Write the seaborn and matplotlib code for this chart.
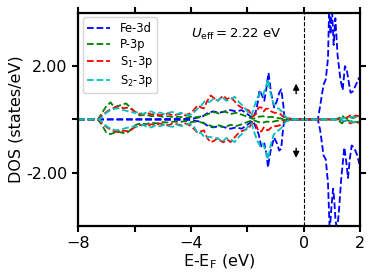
import pandas as pd
import matplotlib
matplotlib.use('Agg')
import matplotlib.pyplot as plt
import seaborn as sns

# PDOS (energy in eV, DOS in states/eV)
fe_e_up = [-8.0, -4.0, -3.6, -3.4, -3.2, -3.0, -2.8, -2.6, -2.4, -2.2, -2.0, -1.8, -1.7, -1.62, -1.57,
           -1.48, -1.4, -1.32, -1.25, -1.16, -1.05, -0.95, -0.87, -0.8, -0.73, -0.68, 0.0, 0.5, 0.58,
           0.7, 0.78, 0.86, 0.9, 0.95, 1.0, 1.06, 1.12, 1.2, 1.3, 1.38, 1.46, 1.52, 1.58, 1.66, 1.74,
           1.85, 1.95, 2.0]
fe_up = [0.0, 0.02, 0.1, 0.25, 0.3, 0.25, 0.3, 0.35, 0.3, 0.35, 0.2, 0.05, 0.3, 0.7, 1.1,
         0.9, 0.7, 1.2, 1.75, 1.0, 0.45, 0.7, 1.0, 1.13, 0.6, 0.0, 0.0, 0.0, 0.5,
         1.3, 1.5, 2.3, 4.2, 3.2, 4.2, 2.8, 3.8, 2.4, 1.5, 1.1, 2.0, 1.9, 1.5, 1.0, 1.05,
         1.3, 1.55, 1.45]
fe_e_dn = [-8.0, -4.0, -3.6, -3.4, -3.2, -3.0, -2.8, -2.6, -2.4, -2.2, -2.0, -1.8, -1.7, -1.6, -1.5,
           -1.4, -1.32, -1.27, -1.18, -1.05, -0.95, -0.87, -0.8, -0.73, -0.68, 0.0, 0.5, 0.58, 0.62,
           0.7, 0.78, 0.86, 0.92, 0.98, 1.04, 1.08, 1.12, 1.18, 1.25, 1.33, 1.44, 1.52, 1.57, 1.63,
           1.7, 1.78, 1.88, 1.97, 2.0]
fe_dn = [0.0, -0.02, -0.1, -0.25, -0.3, -0.25, -0.3, -0.35, -0.3, -0.35, -0.2, -0.05, -0.3, -0.55, -1.05,
         -0.9, -1.3, -1.8, -1.2, -0.68, -0.9, -1.17, -1.1, -0.3, 0.0, 0.0, 0.0, -0.4, -0.7,
         -1.35, -1.5, -2.4, -4.2, -3.3, -2.6, -3.0, -3.7, -4.2, -3.4, -2.2, -1.05, -1.7, -2.2, -1.5,
         -0.98, -1.05, -1.3, -1.65, -1.6]

p_e = [-8.0, -7.3, -7.15, -7.0, -6.85, -6.72, -6.6, -6.45, -6.3, -6.2, -6.05, -5.95, -5.8, -5.6, -5.4,
       -5.2, -5.0, -4.8, -4.6, -4.4, -4.2, -4.0, -3.8, -3.6, -3.4, -3.2, -3.0, -2.8, -2.6, -2.4, -2.2,
       -2.0, -1.8, -1.6, -1.45, -1.3, -1.15, -1.0, -0.85, -0.7, -0.5, 0.0, 1.1, 1.25, 1.35, 1.45, 1.55,
       1.65, 1.75, 1.85, 2.0]
p_up = [0.0, 0.0, 0.25, 0.5, 0.64, 0.45, 0.5, 0.55, 0.6, 0.5, 0.35, 0.22, 0.15, 0.18, 0.12,
        0.15, 0.1, 0.12, 0.08, 0.1, 0.06, 0.1, 0.08, 0.12, 0.2, 0.28, 0.22, 0.3, 0.2, 0.25, 0.18,
        0.1, 0.02, 0.1, 0.12, 0.08, 0.1, 0.06, 0.04, 0.02, 0.0, 0.0, 0.0, 0.05, 0.15, 0.05, 0.03,
        0.08, 0.05, 0.1, 0.08]
p_dn = [0.0, 0.0, -0.22, -0.5, -0.55, -0.5, -0.45, -0.5, -0.52, -0.45, -0.3, -0.2, -0.15, -0.18, -0.12,
        -0.15, -0.1, -0.12, -0.08, -0.1, -0.06, -0.1, -0.08, -0.12, -0.2, -0.28, -0.22, -0.3, -0.2, -0.25, -0.18,
        -0.1, -0.02, -0.1, -0.12, -0.08, -0.1, -0.06, -0.04, -0.02, 0.0, 0.0, 0.0, -0.05, -0.15, -0.05, -0.03,
        -0.08, -0.05, -0.1, -0.08]

s1_e = [-8.0, -7.3, -7.1, -6.9, -6.7, -6.55, -6.4, -6.2, -6.0, -5.85, -5.7, -5.55, -5.4, -5.25, -5.1,
        -4.95, -4.8, -4.65, -4.5, -4.35, -4.2, -4.05, -3.9, -3.77, -3.65, -3.54, -3.42, -3.3, -3.18,
        -3.05, -2.95, -2.85, -2.72, -2.6, -2.47, -2.35, -2.22, -2.1, -1.95, -1.82, -1.7, -1.6, -1.5,
        -1.42, -1.34, -1.25, -1.15, -1.05, -0.95, -0.85, -0.75, -0.6, -0.4, 0.0, 1.2, 1.4, 1.55, 1.65,
        1.75, 1.85, 1.95, 2.0]
s1_up = [0.0, 0.0, 0.2, 0.35, 0.45, 0.5, 0.42, 0.45, 0.3, 0.22, 0.2, 0.25, 0.18, 0.22, 0.15,
         0.2, 0.22, 0.15, 0.18, 0.22, 0.15, 0.22, 0.35, 0.53, 0.45, 0.41, 0.7, 0.9, 0.8,
         0.7, 0.8, 0.9, 0.75, 0.85, 0.7, 0.55, 0.45, 0.4, 0.34, 0.1, 0.2, 0.45, 0.45,
         0.3, 0.4, 0.4, 0.3, 0.25, 0.25, 0.22, 0.12, 0.05, 0.02, 0.0, 0.0, 0.05, 0.08, 0.15,
         0.1, 0.15, 0.12, 0.15]
s1_dn = [0.0, 0.0, -0.2, -0.35, -0.45, -0.48, -0.42, -0.45, -0.3, -0.22, -0.2, -0.25, -0.18, -0.22, -0.15,
         -0.2, -0.22, -0.15, -0.18, -0.22, -0.15, -0.22, -0.35, -0.5, -0.45, -0.41, -0.7, -0.86, -0.8,
         -0.7, -0.8, -0.86, -0.75, -0.85, -0.7, -0.55, -0.45, -0.4, -0.34, -0.1, -0.2, -0.45, -0.45,
         -0.3, -0.4, -0.4, -0.3, -0.25, -0.25, -0.22, -0.12, -0.05, -0.02, 0.0, 0.0, -0.05, -0.08, -0.15,
         -0.1, -0.15, -0.12, -0.15]

s2_e = [-8.0, -7.25, -7.0, -6.85, -6.7, -6.56, -6.4, -6.2, -6.0, -5.85, -5.7, -5.55, -5.4, -5.25, -5.1,
        -4.95, -4.8, -4.65, -4.5, -4.35, -4.2, -4.05, -3.9, -3.77, -3.65, -3.5, -3.35, -3.18, -3.05,
        -2.9, -2.75, -2.6, -2.45, -2.3, -2.15, -2.0, -1.85, -1.75, -1.65, -1.55, -1.45, -1.35, -1.27,
        -1.18, -1.08, -0.98, -0.88, -0.78, -0.65, -0.5, 0.0, 1.2, 1.4, 1.55, 1.7, 1.85, 2.0]
s2_up = [0.0, 0.0, 0.25, 0.35, 0.4, 0.42, 0.35, 0.3, 0.25, 0.28, 0.2, 0.28, 0.3, 0.22, 0.26,
         0.2, 0.25, 0.28, 0.2, 0.25, 0.2, 0.15, 0.25, 0.4, 0.5, 0.7, 0.65, 0.79, 0.7,
         0.85, 0.7, 0.75, 0.85, 0.65, 0.5, 0.3, 0.15, 0.5, 0.8, 1.0, 0.9, 1.2, 1.5,
         1.0, 0.6, 0.45, 0.4, 0.3, 0.1, 0.02, 0.0, 0.0, 0.05, 0.05, 0.1, 0.08, 0.1]
s2_dn = [0.0, 0.0, -0.25, -0.35, -0.4, -0.4, -0.35, -0.3, -0.25, -0.28, -0.2, -0.28, -0.3, -0.22, -0.26,
         -0.2, -0.25, -0.28, -0.2, -0.25, -0.2, -0.15, -0.25, -0.53, -0.5, -0.7, -0.65, -0.7, -0.7,
         -0.85, -0.7, -0.75, -0.85, -0.65, -0.5, -0.3, -0.15, -0.5, -0.8, -1.0, -0.9, -1.2, -1.5,
         -1.0, -0.6, -0.45, -0.4, -0.3, -0.1, -0.02, 0.0, 0.0, -0.05, -0.05, -0.1, -0.08, -0.1]

series = [
    ('Fe-3d', 'b', fe_e_up, fe_up, fe_e_dn, fe_dn),
    ('P-3p', 'g', p_e, p_up, p_e, p_dn),
    (r'S$_1$-3p', 'r', s1_e, s1_up, s1_e, s1_dn),
    (r'S$_2$-3p', 'c', s2_e, s2_up, s2_e, s2_dn),
]

plt.rcParams['font.family'] = 'DejaVu Sans'
fig = plt.figure(figsize=(3.74, 2.8), dpi=100)
ax = fig.add_axes([0.209, 0.193, 0.754, 0.761])

for name, col, e_up, up, e_dn, dn in series:
    sns.lineplot(x=e_up, y=up, ax=ax, color=col, linestyle='--', lw=1.3, label=name)
    sns.lineplot(x=e_dn, y=dn, ax=ax, color=col, linestyle='--', lw=1.3)

ax.axvline(0, color='k', ls='--', lw=0.8)

ax.set_xlim(-8, 2)
ax.set_ylim(-4, 4)
ax.set_xticks([-8, -6, -4, -2, 0, 2])
ax.set_xticklabels(['\u22128', '', '\u22124', '', '0', '2'])
ax.set_yticks([-2, 0, 2])
ax.set_yticklabels(['-2.00', '', '2.00'])
ax.tick_params(direction='out', length=4, width=1.5, labelsize=11.5,
               top=True, right=True)
for sp in ax.spines.values():
    sp.set_linewidth(1.6)

ax.set_xlabel(r'E-E$_{\rm F}$ (eV)', fontsize=11.5, labelpad=1)
ax.set_ylabel('DOS (states/eV)', fontsize=11.5, labelpad=2)

ax.text(-4.0, 3.2, r'$U_{\rm eff} = 2.22$ eV', fontsize=9.5, va='center')
ax.annotate('', xy=(-0.27, 1.45), xytext=(-0.27, 0.86),
            arrowprops=dict(arrowstyle='-|>', color='k', lw=1, mutation_scale=9))
ax.annotate('', xy=(-0.27, -1.55), xytext=(-0.27, -0.98),
            arrowprops=dict(arrowstyle='-|>', color='k', lw=1, mutation_scale=9))

ax.legend(loc='upper left', fontsize=8.3, handlelength=2.0, borderaxespad=0.4,
          labelspacing=0.25)

fig.savefig('out.png', dpi=100)
